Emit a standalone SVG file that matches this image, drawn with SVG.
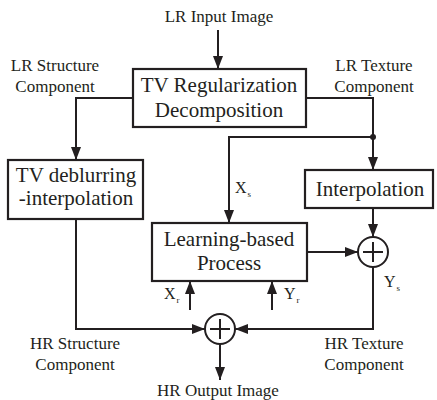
<svg xmlns="http://www.w3.org/2000/svg" width="437" height="400" viewBox="0 0 437 400" font-family="Liberation Serif, serif">
<style>
.box{fill:#fff;stroke:#231f20;stroke-width:2.2}
.ln{fill:none;stroke:#231f20;stroke-width:2}
text{fill:#231f20}
.big{font-size:21px;text-anchor:middle}
.lab{font-size:17px;text-anchor:middle}
.sym{font-size:16px}
.sub{font-size:9px}
</style>
<defs>
<marker id="ah" markerUnits="userSpaceOnUse" markerWidth="14" markerHeight="10" refX="13" refY="5" orient="auto">
<path d="M0,0 L13,5 L0,10 z" fill="#231f20"/>
</marker>
</defs>
<rect width="437" height="400" fill="#fff"/>
<g id="connectors">
<line class="ln" x1="218" y1="30" x2="218" y2="69" marker-end="url(#ah)"/>
<polyline class="ln" points="133,98 76,98 76,160" marker-end="url(#ah)"/>
<polyline class="ln" points="306,98 373,98 373,170" marker-end="url(#ah)"/>
<polyline class="ln" points="373,137 229,137 229,223" marker-end="url(#ah)"/>
<circle cx="373" cy="137" r="3" fill="#231f20"/>
<line class="ln" x1="373" y1="208" x2="373" y2="237" marker-end="url(#ah)"/>
<line class="ln" x1="307" y1="252" x2="358" y2="252" marker-end="url(#ah)"/>
<line class="ln" x1="190" y1="310" x2="190" y2="281" marker-end="url(#ah)"/>
<line class="ln" x1="272" y1="310" x2="272" y2="281" marker-end="url(#ah)"/>
<polyline class="ln" points="76,219 76,329 205,329" marker-end="url(#ah)"/>
<polyline class="ln" points="373,267 373,329 235,329" marker-end="url(#ah)"/>
<line class="ln" x1="220" y1="344" x2="220" y2="380" marker-end="url(#ah)"/>
</g>
<g id="tv-decomp">
<rect class="box" x="133" y="69" width="173" height="58"/>
<text class="big" x="219" y="92">TV Regularization</text>
<text class="big" x="219" y="117">Decomposition</text>
</g>
<g id="tv-deblur">
<rect class="box" x="8" y="160" width="135" height="59"/>
<text class="big" x="76" y="182">TV deblurring</text>
<text class="big" x="76" y="205">-interpolation</text>
</g>
<g id="interp">
<rect class="box" x="305" y="170" width="128" height="38"/>
<text class="big" x="370" y="196">Interpolation</text>
</g>
<g id="learning">
<rect class="box" x="152" y="223" width="155" height="58"/>
<text class="big" x="229" y="246">Learning-based</text>
<text class="big" x="229" y="270">Process</text>
</g>
<g id="sum1">
<circle class="ln" cx="373" cy="252" r="15"/>
<line class="ln" x1="373" y1="242" x2="373" y2="262"/>
<line class="ln" x1="363" y1="252" x2="383" y2="252"/>
</g>
<g id="sum2">
<circle class="ln" cx="220" cy="329" r="15"/>
<line class="ln" x1="220" y1="319" x2="220" y2="339"/>
<line class="ln" x1="210" y1="329" x2="230" y2="329"/>
</g>
<g id="labels">
<text class="lab" x="219" y="22">LR Input Image</text>
<text class="lab" x="55" y="71">LR Structure</text>
<text class="lab" x="55" y="92">Component</text>
<text class="lab" x="374" y="71">LR Texture</text>
<text class="lab" x="374" y="92">Component</text>
<text class="lab" x="75" y="349">HR Structure</text>
<text class="lab" x="75" y="370">Component</text>
<text class="lab" x="364" y="349">HR Texture</text>
<text class="lab" x="364" y="370">Component</text>
<text class="lab" x="218" y="396">HR Output Image</text>
<text class="sym" x="235" y="193">X<tspan class="sub" dx="1" dy="4">s</tspan></text>
<text class="sym" x="164" y="299">X<tspan class="sub" dx="1" dy="4">r</tspan></text>
<text class="sym" x="284" y="299">Y<tspan class="sub" dx="1" dy="4">r</tspan></text>
<text class="sym" x="384" y="287">Y<tspan class="sub" dx="1" dy="4">s</tspan></text>
</g>
</svg>
